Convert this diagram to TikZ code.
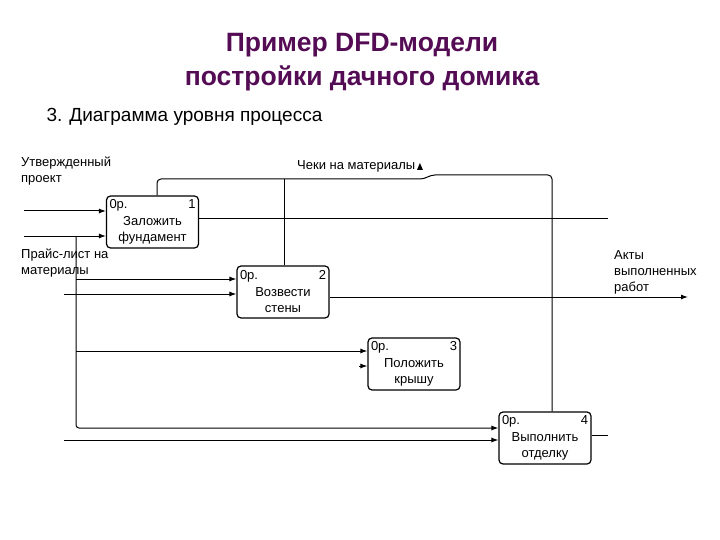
\documentclass[tikz,border=0pt]{standalone}
\usepackage{fontspec}
\setmainfont{Liberation Sans}
\usetikzlibrary{positioning,arrows.meta}
\definecolor{titlePurple}{RGB}{84,12,84}
\tikzset{
  process/.style={rectangle, rounded corners=4pt, draw, line width=1.2pt, fill=white,
    minimum width=92pt, minimum height=52pt, text width=86pt, align=center,
    inner sep=2pt, font=\fontsize{13}{16.5}\selectfont},
  flow/.style={line width=1pt, -{Latex[length=7pt,width=5pt]}},
  plain/.style={line width=1pt},
  lbl/.style={font=\fontsize{13}{16}\selectfont, align=left, inner sep=0pt}
}
\newcommand{\procbox}[3]{\hbox to 86pt{0р.\hfill #1}\\#2\\#3}

\begin{document}
\begin{tikzpicture}[x=1pt, y=-1pt]
  \useasboundingbox (0,0) rectangle (720,540);
  % title
  \node (title) at (362,62) [align=center, text=titlePurple,
      font=\fontsize{26.5}{34}\selectfont\bfseries]
      {Пример DFD-модели\\постройки дачного домика};
  \node (sub) [anchor=west, font=\fontsize{19}{22}\selectfont] at (43,117)
      {3. Диаграмма уровня процесса};

  % processes
  \node [process] (b1) at (152.5,222) {\procbox{1}{Заложить}{фундамент}};
  \node [process] (b2) at (283,292) {\procbox{2}{Возвести}{стены}};
  \node [process] (b3) at (414,364) {\procbox{3}{Положить}{крышу}};
  \node [process] (b4) at (545,438) {\procbox{4}{Выполнить}{отделку}};

  % free ends
  \coordinate (in1) at (24,211);
  \coordinate (in2) at (24,236);
  \coordinate (split) at (76,236);
  \coordinate (in3) at (64,294);
  \coordinate (in5) at (64,440);
  \coordinate (low) at (76,428);
  \coordinate (out1) at (608,219);
  \coordinate (out2) at (688,297);
  \coordinate (out4) at (608,435);
  \coordinate (ctlA) at (157,179);
  \coordinate (ctlB) at (424,179);
  \coordinate (ctlC) at (431,175);
  \coordinate (ctlD) at (552,175);

  % labels
  \node [lbl, anchor=north west] (lproj) at (21,157) {Утвержденный\\проект};
  \node [lbl, anchor=north west] (lprice) at (21,249) {Прайс-лист на\\материалы};
  \node [lbl, anchor=north west] (lacts) at (614,250) {Акты\\выполненных\\работ};
  \node [lbl, anchor=west] (lcheck) at (297,166) {Чеки на материалы};
  \fill (lcheck.east) ++(1.5,4) -- ++(3,-7) -- ++(3,7) -- cycle;

  % inputs
  \draw [flow] (in1) -- (in1 -| b1.west);
  \draw [flow] (in2) -- (in2 -| b1.west);
  \draw [flow, rounded corners=3pt] (split) -- (low) -- (low -| b4.west);
  \draw [flow] (split |- 0,279) -- (b2.west |- 0,279);
  \draw [flow] (in3) -- (in3 -| b2.west);
  \draw [flow] (split |- 0,351) -- (b3.west |- 0,351);
  \draw [flow] ([xshift=-8pt]b3.west |- 0,366) -- (b3.west |- 0,366);
  \draw [flow] (in5) -- (in5 -| b4.west);

  % outputs
  \draw [plain] (b1.east |- out1) -- (out1);
  \draw [flow] (b2.east |- out2) -- (out2);
  \draw [plain] (b4.east |- out4) -- (out4);

  % checks
  \draw [plain, rounded corners=4pt] (ctlA |- b1.north) -- (ctlA) -- (ctlB) -- (ctlC)
      -- (ctlD) -- (ctlD |- b4.north);
  \draw [plain] (b2.north -| 284,0) -- (284,179);
\end{tikzpicture}
\end{document}
